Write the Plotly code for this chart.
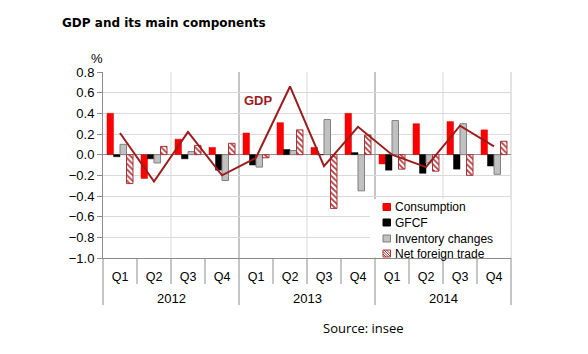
import plotly.graph_objects as go

years = ["2012"] * 4 + ["2013"] * 4 + ["2014"] * 4
quarters = ["Q1", "Q2", "Q3", "Q4"] * 3
year_labels = ["2012", "2013", "2014"]
consumption = [0.40, -0.23, 0.15, 0.07, 0.21, 0.31, 0.07, 0.40, -0.09, 0.30, 0.32, 0.24]
gfcf = [-0.02, -0.04, -0.04, -0.15, -0.10, 0.05, 0.00, 0.02, -0.15, -0.18, -0.14, -0.11]
inventory = [0.10, -0.08, 0.03, -0.25, -0.12, 0.04, 0.34, -0.35, 0.33, -0.08, 0.30, -0.19]
net_trade = [-0.28, 0.08, 0.09, 0.11, -0.03, 0.24, -0.52, 0.19, -0.14, -0.16, -0.20, 0.13]
gdp = [0.21, -0.26, 0.22, -0.20, -0.03, 0.66, -0.11, 0.27, 0.00, -0.12, 0.28, 0.08]

cats = [f"{y} {q}" for y, q in zip(years, quarters)]
FONT = "Liberation Sans"
GDP_COLOR = "#9b1c1c"
AX = "#8c8c8c"
HATCH = "#a83236"

# plot area in pixels: left 103, right 511, top 72, bottom 258
L, R, T, B = 103, 511, 72, 258
W, H = R - L, B - T


def px(xp):
    return (xp - L) / W


def py(yp):
    return (B - yp) / H


fig = go.Figure()
fig.add_trace(go.Bar(x=cats, y=consumption, name="Consumption",
                     marker=dict(color="#ff0000", line=dict(color="#e00000", width=0.5))))
fig.add_trace(go.Bar(x=cats, y=gfcf, name="GFCF",
                     marker=dict(color="#000000", line=dict(color="#000000", width=0.5))))
fig.add_trace(go.Bar(x=cats, y=inventory, name="Inventory changes",
                     marker=dict(color="#c0c0c0", line=dict(color="#808080", width=1))))
fig.add_trace(go.Bar(x=cats, y=net_trade, name="Net foreign trade",
                     marker=dict(color="white", line=dict(color=HATCH, width=1),
                                 pattern=dict(shape="\\", fgcolor="#b03a3e", bgcolor="white",
                                              size=4, solidity=0.45, fillmode="replace"))))
fig.add_trace(go.Scatter(x=cats, y=gdp, mode="lines", name="GDP",
                         line=dict(color=GDP_COLOR, width=2)))

shapes = []
# vertical gridlines inside the plot
for i, col in [(2, "#d9d9d9"), (4, AX), (6, "#d9d9d9"), (8, AX), (10, "#d9d9d9"), (12, "#c8c8c8")]:
    shapes.append(dict(type="line", xref="paper", yref="paper", x0=i / 12, x1=i / 12, y0=0, y1=1,
                       line=dict(color=col, width=1), layer="below"))
# category separators below the axis
for i in range(13):
    bottom = py(305) if i % 4 == 0 else py(284)
    shapes.append(dict(type="line", xref="paper", yref="paper", x0=i / 12, x1=i / 12,
                       y0=0, y1=bottom, line=dict(color=AX, width=1), layer="above"))

# manual legend
legend_items = [
    ("Consumption", dict(color="#ff0000", line="#e00000"), 207),
    ("GFCF", dict(color="#000000", line="#000000"), 222.5),
    ("Inventory changes", dict(color="#c0c0c0", line="#808080"), 238.5),
    ("Net foreign trade", dict(color="white", line=HATCH), 253.5),
]
shapes.append(dict(type="rect", xref="paper", yref="paper", x0=px(370), x1=px(510.5),
                   y0=py(257.5), y1=py(199), fillcolor="white", line=dict(width=0), layer="above"))
annotations = []
for name, st, yc in legend_items:
    x0, x1 = 383, 390.5
    y0, y1 = yc - 3.5, yc + 3.5
    shapes.append(dict(type="rect", xref="paper", yref="paper", x0=px(x0), x1=px(x1),
                       y0=py(y1), y1=py(y0), fillcolor=st["color"],
                       line=dict(color=st["line"], width=1), layer="above"))
    if name == "Net foreign trade":
        for d in (-4, -1.5, 1, 3.5):
            sx0, sy0 = x0 + d, y0
            sx1, sy1 = x0 + d + 7, y1
            if sx0 < x0:
                sy0 = y0 + (x0 - sx0)
                sx0 = x0
            if sx1 > x1:
                sy1 = y1 - (sx1 - x1)
                sx1 = x1
            if sx1 > sx0:
                shapes.append(dict(type="line", xref="paper", yref="paper", x0=px(sx0), x1=px(sx1),
                                   y0=py(sy0), y1=py(sy1), line=dict(color=HATCH, width=1),
                                   layer="above"))
    annotations.append(dict(text=name, xref="paper", yref="paper", x=px(393), y=py(yc),
                            xanchor="left", yanchor="middle", showarrow=False,
                            font=dict(family=FONT, size=12, color="#000000")))

for j, yl in enumerate(year_labels):
    annotations.append(dict(text=yl, xref="paper", yref="paper", x=(4 * j + 2) / 12, y=py(298),
                            xanchor="center", yanchor="middle", showarrow=False,
                            font=dict(family=FONT, size=13, color="#000000")))

annotations += [
    dict(text="%", xref="paper", yref="paper", x=px(97), y=py(58), showarrow=False,
         font=dict(family=FONT, size=13, color="#000000"), xanchor="center", yanchor="middle"),
    dict(text="<b>GDP</b>", xref="paper", yref="paper", x=px(258), y=py(100),
         showarrow=False, font=dict(family=FONT, size=13, color=GDP_COLOR),
         xanchor="center", yanchor="middle"),
    dict(text="Source: insee", xref="paper", yref="paper", x=px(363), y=py(328), showarrow=False,
         font=dict(family="Open Sans", size=13, color="#000000"),
         xanchor="center", yanchor="middle"),
]

fig.update_layout(
    width=588, height=354,
    margin=dict(l=L, r=588 - R, t=T, b=354 - B),
    paper_bgcolor="white", plot_bgcolor="white",
    barmode="group", bargap=0.235, bargroupgap=0,
    showlegend=False,
    font=dict(family=FONT, size=13, color="#000000"),
    title=dict(text="<b>GDP and its main components</b>", x=62 / 588, xanchor="left",
               y=1 - 23 / 354, yanchor="middle", xref="container", yref="container",
               font=dict(family="DejaVu Sans", size=12, color="#000000")),
    xaxis=dict(type="category", categoryorder="array", categoryarray=cats,
               tickmode="array", tickvals=cats, ticktext=quarters,
               showgrid=False, showline=True, linecolor=AX, ticks="",
               ticklabelstandoff=7,
               tickfont=dict(family=FONT, size=12.5, color="#000000")),
    yaxis=dict(range=[-1.0, 0.8], dtick=0.2, tick0=0, tickformat=".1f",
               showgrid=True, gridcolor="#d9d9d9", gridwidth=1,
               zeroline=True, zerolinecolor=AX, zerolinewidth=1,
               showline=True, linecolor=AX, ticks="outside", ticklen=5,
               tickcolor=AX, tickfont=dict(family=FONT, size=13, color="#000000")),
    shapes=shapes,
    annotations=annotations,
)

fig.write_html("out.html")
